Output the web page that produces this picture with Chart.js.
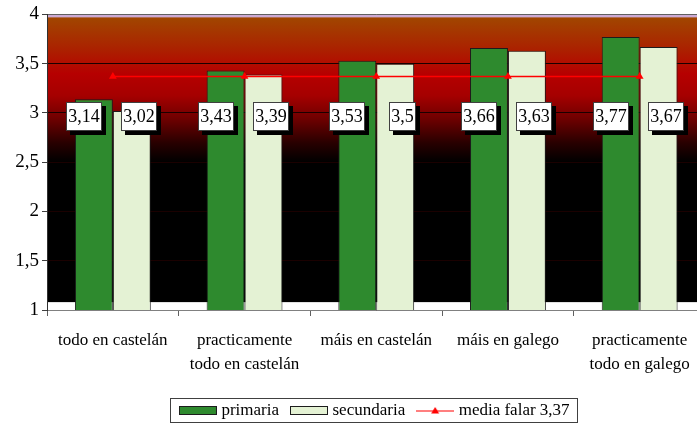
<!DOCTYPE html>
<html><head><meta charset="utf-8">
<script src="https://cdn.jsdelivr.net/npm/chart.js@4.4.0/dist/chart.umd.min.js"></script>
<style>
html,body{margin:0;padding:0;background:#fff;overflow:hidden;width:697px;height:429px;}
#wrap{position:absolute;left:0;top:0;width:710px;height:429px;}
</style>
</head><body><div id="wrap"><canvas id="c"></canvas></div>
<script>
const categories = [['todo en castelán'], ['practicamente', 'todo en castelán'], ['máis en castelán'], ['máis en galego'], ['practicamente', 'todo en galego']];
const primaria = [3.14, 3.43, 3.53, 3.66, 3.77];
const secundaria = [3.02, 3.39, 3.5, 3.63, 3.67];
const mediaFalar = [3.37, 3.37, 3.37, 3.37, 3.37];
const seriesNames = ['primaria', 'secundaria', 'media falar 3,37'];
const yTickLabels = ['1', '1,5', '2', '2,5', '3', '3,5', '4'];

const FONT = "'Liberation Serif', 'Times New Roman', serif";
const GREEN = '#2e8a2e', LIGHT = '#e4f2d4', RED = '#ff0000';

function swatch(fill, stroke) {
  const c = document.createElement('canvas'); c.width = 38; c.height = 9;
  const x = c.getContext('2d');
  x.fillStyle = fill; x.fillRect(0, 0, 38, 9);
  x.strokeStyle = stroke; x.lineWidth = 1; x.strokeRect(0.5, 0.5, 37, 8);
  return c;
}
function lineIcon() {
  const c = document.createElement('canvas'); c.width = 38; c.height = 9;
  const x = c.getContext('2d');
  x.strokeStyle = RED; x.lineWidth = 1.2;
  x.beginPath(); x.moveTo(0, 5); x.lineTo(38, 5); x.stroke();
  x.fillStyle = RED; x.beginPath(); x.moveTo(19, 1); x.lineTo(23, 7.5); x.lineTo(15, 7.5); x.closePath(); x.fill();
  return c;
}
const icons = [swatch(GREEN, '#1c1c1c'), swatch(LIGHT, '#1c1c1c'), lineIcon()];

const bgPlugin = {
  id: 'bg',
  beforeDraw(chart) {
    const {ctx, chartArea: a, scales: {y}} = chart;
    const top = y.getPixelForValue(4), bottom = y.getPixelForValue(1.08);
    const gEnd = y.getPixelForValue(2.5);
    const g = ctx.createLinearGradient(0, top, 0, gEnd);
    g.addColorStop(0, 'rgb(160,74,0)');
    g.addColorStop(0.22, 'rgb(170,36,0)');
    g.addColorStop(0.4, 'rgb(182,0,0)');
    g.addColorStop(0.55, 'rgb(165,0,0)');
    g.addColorStop(0.72, 'rgb(105,0,0)');
    g.addColorStop(0.87, 'rgb(40,0,0)');
    g.addColorStop(1, 'rgb(0,0,0)');
    ctx.save();
    ctx.fillStyle = g;
    ctx.fillRect(a.left, top, a.right - a.left, gEnd - top + 1);
    ctx.fillStyle = '#000';
    ctx.fillRect(a.left, gEnd, a.right - a.left, bottom - gEnd);
    ctx.fillStyle = 'rgb(204,170,212)';
    ctx.fillRect(a.left, top, a.right - a.left, 3);
    ctx.restore();
  }
};

const labelPlugin = {
  id: 'boxLabels',
  afterDatasetsDraw(chart) {
    const {ctx, scales: {y}} = chart;
    const offsets = [-10, 7];
    ctx.save();
    ctx.font = '18px ' + FONT;
    ctx.textAlign = 'center';
    ctx.textBaseline = 'middle';
    [0, 1].forEach(di => {
      const meta = chart.getDatasetMeta(di);
      const vals = chart.data.datasets[di].data;
      meta.data.forEach((el, i) => {
        const txt = String(vals[i]).replace('.', ',');
        const tw = ctx.measureText(txt).width;
        const w = Math.round(tw + 4), h = 29;
        const cx = el.x + offsets[di];
        const cy = y.getPixelForValue(2.96);
        const bx = Math.round(cx - w / 2), by = Math.round(cy - h / 2);
        ctx.fillStyle = '#000';
        ctx.fillRect(bx + 4, by + 4, w, h);
        ctx.fillStyle = '#fff';
        ctx.fillRect(bx, by, w, h);
        ctx.strokeStyle = '#404040'; ctx.lineWidth = 1;
        ctx.strokeRect(bx + 0.5, by + 0.5, w - 1, h - 1);
        ctx.fillStyle = '#000';
        ctx.fillText(txt, bx + w / 2, by + h / 2 + 1);
      });
    });
    ctx.restore();
  }
};

const legendBorder = {
  id: 'legendBorder',
  afterDraw(chart) {
    const hb = chart.legend && chart.legend.legendHitBoxes;
    if (!hb || !hb.length) return;
    const minX = Math.min(...hb.map(h => h.left));
    const maxX = Math.max(...hb.map(h => h.left + h.width));
    const top = hb[0].top, hh = hb[0].height;
    const ctx = chart.ctx;
    ctx.save();
    ctx.strokeStyle = '#404040'; ctx.lineWidth = 1;
    ctx.strokeRect(Math.round(minX - 13) + 0.5, Math.round(top - 4) + 0.5, Math.round(maxX - minX + 20), hh + 7);
    ctx.restore();
  }
};

new Chart(document.getElementById('c'), {
  type: 'bar',
  data: {
    labels: categories,
    datasets: [
      { type: 'bar', label: seriesNames[0], data: primaria, backgroundColor: GREEN, borderColor: '#1c1c1c', borderWidth: 1, borderSkipped: false, categoryPercentage: 0.576, barPercentage: 1, order: 1 },
      { type: 'bar', label: seriesNames[1], data: secundaria, backgroundColor: LIGHT, borderColor: '#1c1c1c', borderWidth: 1, borderSkipped: false, categoryPercentage: 0.576, barPercentage: 1, order: 1 },
      { type: 'line', label: seriesNames[2], data: mediaFalar, borderColor: RED, backgroundColor: RED, borderWidth: 1.4, pointStyle: 'triangle', pointRadius: 4.5, pointBackgroundColor: RED, pointBorderColor: RED, pointBorderWidth: 0, fill: false, tension: 0, order: 0 }
    ]
  },
  options: {
    responsive: true,
    maintainAspectRatio: false,
    animation: false,
    layout: { padding: { top: 14, right: 3, left: 0, bottom: 0 } },
    plugins: {
      tooltip: { enabled: false },
      legend: {
        position: 'bottom',
        fullSize: false,
        labels: {
          usePointStyle: true,
          pointStyleWidth: 30,
          boxHeight: 9,
          padding: 15,
          color: '#000',
          font: { family: FONT, size: 17 },
          sort: (a, b) => a.datasetIndex - b.datasetIndex,
          generateLabels(chart) {
            const items = Chart.defaults.plugins.legend.labels.generateLabels(chart);
            items.forEach(it => { it.pointStyle = icons[it.datasetIndex]; it.lineWidth = 0; });
            return items;
          }
        }
      }
    },
    scales: {
      x: {
        offset: true,
        grid: { display: true, drawOnChartArea: false, offset: true, tickLength: 6, tickColor: '#606060' },
        border: { display: true, color: '#808080' },
        ticks: { color: '#000', font: { family: FONT, size: 17, lineHeight: 1.41 }, padding: 13, maxRotation: 0, autoSkip: false },
        afterFit(s) { s.height = 77; }
      },
      y: {
        min: 1, max: 4,
        ticks: { stepSize: 0.5, color: '#000', font: { family: FONT, size: 19 }, padding: 3, callback: (v, i) => yTickLabels[i] },
        grid: { color: c => (c.tick && c.tick.value === 4) ? '#606060' : '#1a0000', lineWidth: 1, tickLength: 5, tickColor: '#404040' },
        border: { display: true, color: '#303030' },
        afterFit(s) { s.width = 47; }
      }
    }
  },
  plugins: [bgPlugin, labelPlugin, legendBorder]
});
</script>
</body></html>
